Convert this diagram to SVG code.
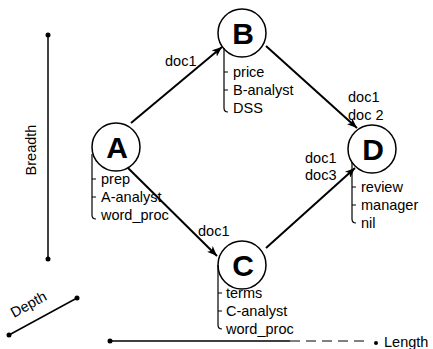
<svg xmlns="http://www.w3.org/2000/svg" width="433" height="349" viewBox="0 0 433 349">
<defs>
<marker id="arr" viewBox="0 0 10 8" refX="10" refY="4" markerWidth="10" markerHeight="8" markerUnits="userSpaceOnUse" orient="auto">
<path d="M0,0 L10,4 L0,8 L2.5,4 Z" fill="#000"/>
</marker>
</defs>
<style>
text{font-family:"Liberation Sans",Arial,sans-serif;fill:#000}
.t{font-size:14.5px}
.n{font-size:30px;font-weight:bold;text-anchor:middle}
circle.node{fill:#fff;stroke:#000;stroke-width:1.5}
.e{stroke:#000;stroke-width:2;fill:none;marker-end:url(#arr)}
.br{stroke:#000;stroke-width:1.2;fill:none}
.ax{stroke:#000;stroke-width:1.5}
</style>
<rect width="433" height="349" fill="#fff"/>
<g id="axes">
<line class="ax" x1="48" y1="35" x2="48" y2="259"/>
<circle cx="48" cy="35" r="2.5"/>
<circle cx="48" cy="259" r="2.5"/>
<text class="t" transform="translate(36,150) rotate(-90)" text-anchor="middle">Breadth</text>
<line class="ax" x1="9" y1="335" x2="77" y2="298"/>
<circle cx="9" cy="335" r="2.5"/>
<circle cx="77" cy="298" r="2.5"/>
<text class="t" transform="translate(14,318) rotate(-29)">Depth</text>
<line class="ax" x1="110" y1="341" x2="290" y2="341"/>
<line stroke="#000" stroke-width="1" x1="290" y1="341" x2="365" y2="341" stroke-dasharray="10,6"/>
<circle cx="110" cy="341" r="2.5"/>
<circle cx="376" cy="343" r="2"/>
<text class="t" x="384" y="347">Length</text>
</g>
<g id="connectors">
<line class="e" x1="131" y1="123" x2="222" y2="47"/>
<line class="e" x1="266" y1="46" x2="357" y2="128"/>
<line class="e" x1="128" y1="168" x2="217" y2="256"/>
<line class="e" x1="266" y1="248" x2="355" y2="168"/>
<text class="t" x="165" y="66">doc1</text>
<text class="t" x="348" y="102">doc1</text>
<text class="t" x="348" y="120">doc 2</text>
<text class="t" x="198" y="236">doc1</text>
<text class="t" x="305" y="163">doc1</text>
<text class="t" x="305" y="180">doc3</text>
</g>
<g id="A">
<circle class="node" cx="116" cy="147" r="24"/>
<text class="n" x="117" y="158">A</text>
<path class="br" d="M92,154 V215 Q92,219 96,219 M92,179 H96 M92,197 H96"/>
<text class="t" x="101" y="184">prep</text>
<text class="t" x="101" y="202">A-analyst</text>
<text class="t" x="101" y="220">word_proc</text>
</g>
<g id="B">
<circle class="node" cx="242" cy="33" r="24"/>
<text class="n" x="243" y="44">B</text>
<path class="br" d="M224,48 V108 Q224,112 228,112 M224,72 H228 M224,90 H228"/>
<text class="t" x="233" y="77">price</text>
<text class="t" x="233" y="95">B-analyst</text>
<text class="t" x="233" y="113">DSS</text>
</g>
<g id="C">
<circle class="node" cx="242" cy="265" r="24"/>
<text class="n" x="243" y="276">C</text>
<path class="br" d="M218,265 V325 Q218,329 222,329 M218,293 H222 M218,311 H222"/>
<text class="t" x="226" y="298">terms</text>
<text class="t" x="226" y="316">C-analyst</text>
<text class="t" x="226" y="334">word_proc</text>
</g>
<g id="D">
<circle class="node" cx="372" cy="149" r="24"/>
<text class="n" x="373" y="160">D</text>
<path class="br" d="M352,162 V219 Q352,223 356,223 M352,187 H356 M352,205 H356"/>
<text class="t" x="361" y="192">review</text>
<text class="t" x="361" y="210">manager</text>
<text class="t" x="361" y="228">nil</text>
</g>
</svg>
